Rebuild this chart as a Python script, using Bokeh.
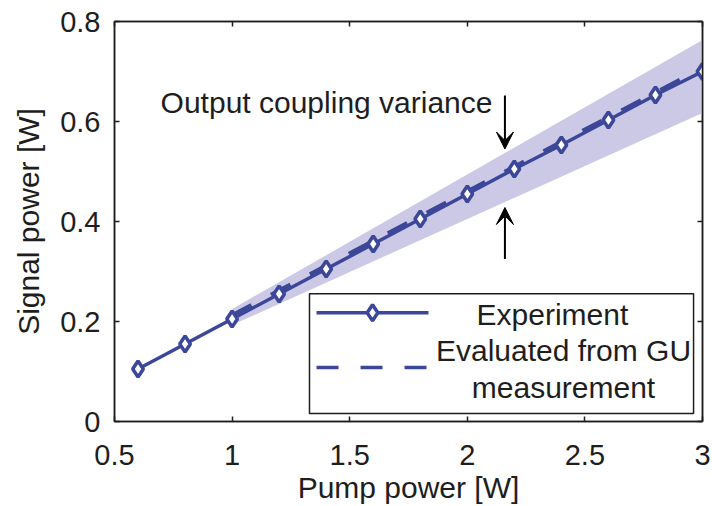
from bokeh.plotting import figure
from bokeh.models import (LinearAxis, FixedTicker, CustomJSTickFormatter, Label,
                          Arrow, VeeHead)
from bokeh.embed import file_html
from bokeh.resources import INLINE

# Measured signal power vs. pump power
pump_w = [0.6, 0.8, 1.0, 1.2, 1.4, 1.6, 1.8, 2.0, 2.2, 2.4, 2.6, 2.8, 3.0]
signal_w = [0.105, 0.155, 0.205, 0.255, 0.305, 0.355, 0.405, 0.455, 0.505,
            0.553, 0.603, 0.653, 0.700]

# Prediction from the GU measurement
gu_pump = [1.0, 3.0]
gu_signal = [0.212, 0.707]

# Spread caused by the output coupling variance
band_pump = [1.0, 3.0]
band_upper = [0.225, 0.763]
band_lower = [0.193, 0.617]

x_ticks = [0.5, 1, 1.5, 2, 2.5, 3]
y_ticks = [0, 0.2, 0.4, 0.6, 0.8]

BLUE = "#3d4799"
BAND = "#cbc9e6"
INK = "#1e1e1e"
FONT = "Liberation Sans"

p = figure(width=712, height=506, x_range=(0.5, 3), y_range=(0, 0.8),
           output_backend="svg", toolbar_location=None,
           min_border_left=114, min_border_right=10,
           min_border_top=21, min_border_bottom=84)
p.xgrid.visible = False
p.ygrid.visible = False
p.outline_line_color = INK
p.outline_line_width = 1.5
p.background_fill_color = "white"
p.border_fill_color = "white"

fmt = CustomJSTickFormatter(code="return tick.toString();")
blank = CustomJSTickFormatter(code="return '';")

def style_axis(ax, ticks, formatter):
    ax.ticker = FixedTicker(ticks=ticks)
    ax.formatter = formatter
    ax.major_tick_in = 5
    ax.major_tick_out = 0
    ax.minor_tick_line_color = None
    ax.axis_line_color = INK
    ax.axis_line_width = 1.5
    ax.major_tick_line_color = INK
    ax.major_tick_line_width = 1.5
    ax.major_label_text_font = FONT
    ax.major_label_text_font_size = "29px"
    ax.major_label_text_color = INK
    ax.axis_label_text_font = FONT
    ax.axis_label_text_font_size = "30px"
    ax.axis_label_text_font_style = "normal"
    ax.axis_label_text_color = INK

style_axis(p.xaxis[0], x_ticks, fmt)
style_axis(p.yaxis[0], y_ticks, fmt)
p.xaxis.axis_label = "Pump power [W]"
p.yaxis.axis_label = "Signal power [W]"
p.xaxis.major_label_standoff = 23
p.yaxis.major_label_standoff = 14
p.xaxis.axis_label_standoff = 3
p.yaxis.axis_label_standoff = 12

top = LinearAxis()
style_axis(top, x_ticks, blank)
top.major_label_standoff = 0
p.add_layout(top, "above")
right = LinearAxis()
style_axis(right, y_ticks, blank)
right.major_label_standoff = 0
p.add_layout(right, "right")

# variance band
p.varea(x=band_pump, y1=band_lower, y2=band_upper, fill_color=BAND, fill_alpha=1)

# GU evaluation (dashed) and experiment (solid with diamonds)
p.line(gu_pump, gu_signal, line_color=BLUE, line_width=4.5, line_dash="22 22")
p.line(pump_w, signal_w, line_color=BLUE, line_width=3.5)
p.scatter(pump_w, signal_w, marker="diamond", size=16, line_color=BLUE,
          line_width=3.5, fill_color="white")

# annotation with arrows
p.add_layout(Label(x=0.696, y=0.639, text="Output coupling variance",
                   text_font=FONT, text_font_size="30px", text_color=INK,
                   text_baseline="alphabetic"))
head = dict(size=17, fill_color="black", line_color="black", line_width=1)
p.add_layout(Arrow(x_start=2.16, y_start=0.652, x_end=2.16, y_end=0.545,
                   line_color="black", line_width=2, end=VeeHead(**head)))
p.add_layout(Arrow(x_start=2.16, y_start=0.325, x_end=2.16, y_end=0.428,
                   line_color="black", line_width=2, end=VeeHead(**head)))

# legend box
LEG_L, LEG_R, LEG_B, LEG_T = 1.329, 2.962, 0.016, 0.2555
p.quad(left=[LEG_L], right=[LEG_R], bottom=[LEG_B], top=[LEG_T],
       fill_color="white", line_color=INK, line_width=1.5)
p.line([1.359, 1.835], [0.2176, 0.2176], line_color=BLUE, line_width=3.5)
p.scatter([1.597], [0.2176], marker="diamond", size=16, line_color=BLUE,
          line_width=3.5, fill_color="white")
p.line([1.359, 1.835], [0.108, 0.108], line_color=BLUE, line_width=3.5,
       line_dash="22 22")
for txt, xx, yy in [("Experiment", 2.362, 0.2136), ("Evaluated from GU", 2.409, 0.1418),
                    ("measurement", 2.409, 0.0679)]:
    p.add_layout(Label(x=xx, y=yy, text=txt, text_font=FONT,
                       text_font_size="30px", text_color=INK,
                       text_align="center", text_baseline="alphabetic"))

open("out.html", "w").write(file_html(p, INLINE))
